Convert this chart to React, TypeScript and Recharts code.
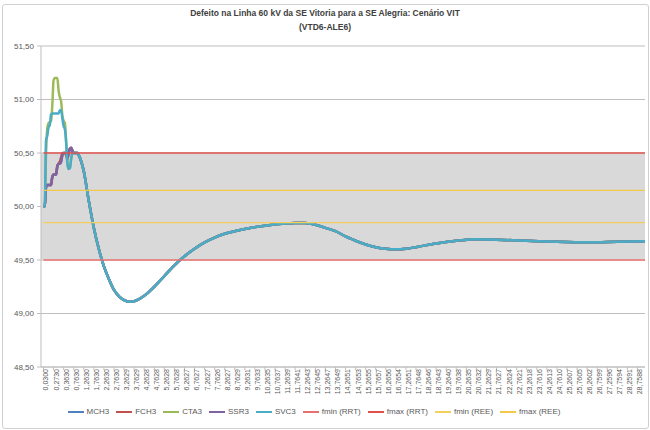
import React from 'react';
import {
  LineChart,
  Line,
  XAxis,
  YAxis,
  CartesianGrid,
  Legend,
  ReferenceArea,
} from 'recharts';

// Time labels printed under the category axis (one every 8 output samples)
const timeLabels = [
  '0,0300', '0,2730', '0,3630', '0,7630', '1,2630', '1,7630', '2,2630', '2,7630',
  '3,2629', '3,7629', '4,2628', '4,7628', '5,2628', '5,7628', '6,2627', '6,7627',
  '7,2627', '7,7626', '8,2627', '8,7629', '9,2631', '9,7633', '10,2635', '10,7637',
  '11,2639', '11,7641', '12,2643', '12,7645', '13,2647', '13,7649', '14,2651', '14,7653',
  '15,2655', '15,7657', '16,2656', '16,7654', '17,2651', '17,7648', '18,2646', '18,7643',
  '19,2640', '19,7638', '20,2635', '20,7632', '21,2629', '21,7627', '22,2624', '22,7621',
  '23,2618', '23,7616', '24,2613', '24,7610', '25,2607', '25,7605', '26,2602', '26,7599',
  '27,2596', '27,7594', '28,2591', '28,7588',
];
const SAMPLES_PER_LABEL = 8;

// Output samples during the fault / clearing transient
const transientSamples = [
  0, 1, 2, 3, 4, 5, 6, 7, 8, 9, 10, 11, 12, 13, 14, 15, 16, 17, 18, 19, 20, 21, 22, 23,
  24, 25, 26, 27, 28, 30,
];
const mch3Transient = [
  50.0, 50.0, 50.18, 50.2, 50.2, 50.2, 50.2, 50.28, 50.3, 50.3, 50.3, 50.38, 50.4, 50.4,
  50.42, 50.48, 50.5, 50.5, 50.5, 50.46, 50.5, 50.54, 50.55, 50.52, 50.5, 50.5, 50.5, 50.5,
  50.48, 50.42,
];
const fch3Transient = [
  50.0, 50.0, 50.18, 50.2, 50.2, 50.2, 50.2, 50.28, 50.3, 50.3, 50.3, 50.38, 50.4, 50.42,
  50.46, 50.5, 50.5, 50.5, 50.48, 50.44, 50.5, 50.54, 50.55, 50.52, 50.5, 50.5, 50.5, 50.5,
  50.48, 50.42,
];
const cta3Transient = [
  50.0, 50.0, 50.5, 50.73, 50.78, 50.79, 50.8, 50.95, 51.18, 51.2, 51.2, 51.2, 51.08, 51.02,
  50.98, 50.85, 50.8, 50.78, 50.6, 50.4, 50.35, 50.36, 50.45, 50.5, 50.5, 50.5, 50.5, 50.5,
  50.48, 50.42,
];
const ssr3Transient = [
  50.0, 50.0, 50.18, 50.2, 50.2, 50.2, 50.2, 50.28, 50.3, 50.3, 50.3, 50.38, 50.4, 50.4,
  50.42, 50.48, 50.5, 50.5, 50.5, 50.46, 50.5, 50.54, 50.55, 50.52, 50.5, 50.5, 50.5, 50.5,
  50.48, 50.42,
];
const svc3Transient = [
  50.0, 50.0, 50.62, 50.66, 50.74, 50.76, 50.86, 50.87, 50.87, 50.87, 50.87, 50.87, 50.87,
  50.9, 50.9, 50.82, 50.75, 50.72, 50.6, 50.4, 50.35, 50.36, 50.45, 50.5, 50.5, 50.5, 50.5,
  50.5, 50.48, 50.42,
];

// After clearing all five units follow the same frequency recovery
const recoverySamples = [
  32, 36, 40, 44, 48, 52, 56, 60, 64, 68, 72, 80, 88, 96, 104, 112, 120, 128, 136, 144, 160,
  176, 192, 200, 208, 216, 224, 232, 240, 248, 256, 264, 272, 280, 288, 296, 312, 328, 344,
  360, 384, 408, 432, 456, 478,
];
const recoveryFreq = [
  50.33, 50.05, 49.8, 49.6, 49.44, 49.32, 49.22, 49.16, 49.125, 49.11, 49.115, 49.165, 49.25,
  49.35, 49.45, 49.535, 49.605, 49.665, 49.71, 49.745, 49.79, 49.82, 49.84, 49.845, 49.845,
  49.83, 49.8, 49.77, 49.72, 49.68, 49.645, 49.62, 49.605, 49.6, 49.605, 49.62, 49.655, 49.68,
  49.695, 49.69, 49.68, 49.67, 49.665, 49.67, 49.675,
];

// Frequency limits (Hz)
const FMIN_RRT = 49.5;
const FMAX_RRT = 50.5;
const FMIN_REE = 49.85;
const FMAX_REE = 50.15;

const yTicks = [48.5, 49.0, 49.5, 50.0, 50.5, 51.0, 51.5];

const samples = [...transientSamples, ...recoverySamples];
const build = (transient: number[]) => [...transient, ...recoveryFreq];
const mch3 = build(mch3Transient);
const fch3 = build(fch3Transient);
const cta3 = build(cta3Transient);
const ssr3 = build(ssr3Transient);
const svc3 = build(svc3Transient);

const data = samples.map((sample, i) => ({
  sample,
  MCH3: mch3[i],
  FCH3: fch3[i],
  CTA3: cta3[i],
  SSR3: ssr3[i],
  SVC3: svc3[i],
  fminRRT: FMIN_RRT,
  fmaxRRT: FMAX_RRT,
  fminREE: FMIN_REE,
  fmaxREE: FMAX_REE,
}));

const xTicks = timeLabels.map((_, i) => i * SAMPLES_PER_LABEL);

const FONT = '"Liberation Sans", Arial, sans-serif';
const AXIS_COLOR = '#bfbfbf';
const TEXT_COLOR = '#595959';

const series = [
  { key: 'MCH3', color: '#4F81BD' },
  { key: 'FCH3', color: '#C0504D' },
  { key: 'CTA3', color: '#9BBB59' },
  { key: 'SSR3', color: '#8064A2' },
  { key: 'SVC3', color: '#4BACC6' },
];
const limitSeries = [
  { key: 'fminRRT', name: 'fmin (RRT)', color: '#E8706E' },
  { key: 'fmaxRRT', name: 'fmax (RRT)', color: '#E0504C' },
  { key: 'fminREE', name: 'fmin (REE)', color: '#F5CF5C' },
  { key: 'fmaxREE', name: 'fmax (REE)', color: '#F2C94A' },
];
const legendOrder = [...series.map((s) => s.key), ...limitSeries.map((s) => s.name)];

const renderLegend = (props: any) => {
  const items = [...(props.payload || [])].sort(
    (a: any, b: any) => legendOrder.indexOf(a.value) - legendOrder.indexOf(b.value)
  );
  return (
    <div
      style={{
        display: 'flex',
        justifyContent: 'center',
        alignItems: 'center',
        fontSize: 8,
        fontFamily: FONT,
        color: TEXT_COLOR,
        paddingRight: 10,
      }}
    >
      {items.map((it: any) => (
        <div
          key={it.value}
          style={{ display: 'flex', alignItems: 'center', marginRight: 7 }}
        >
          <svg width={16} height={6} style={{ marginRight: 3 }}>
            <line x1={0} y1={3} x2={16} y2={3} stroke={it.color} strokeWidth={2} />
          </svg>
          <span>{it.value}</span>
        </div>
      ))}
    </div>
  );
};

export default function App() {
  return (
    <div
      style={{
        position: 'absolute',
        left: 0,
        top: 0,
        width: 650,
        height: 430,
        background: '#ffffff',
        fontFamily: FONT,
      }}
    >
      <div
        style={{
          position: 'absolute',
          left: 2,
          top: 4,
          width: 645,
          height: 423,
          border: '1px solid #d0d0d0',
          borderRadius: 3,
        }}
      />
      <div
        style={{
          position: 'absolute',
          left: 0,
          top: 6,
          width: 650,
          textAlign: 'center',
          fontSize: 8.5,
          lineHeight: '14px',
          fontWeight: 'bold',
          color: '#404040',
        }}
      >
        <div>Defeito na Linha 60 kV da SE Vitoria para a SE Alegria: Cenário VIT</div>
        <div>(VTD6-ALE6)</div>
      </div>
      <div style={{ position: 'absolute', left: 0, top: 0 }}>
        <LineChart
          width={650}
          height={430}
          data={data}
          margin={{ top: 46, right: 5, bottom: 3, left: 0 }}
        >
          <CartesianGrid vertical={false} stroke={AXIS_COLOR} strokeWidth={1} />
          <ReferenceArea
            y1={FMIN_RRT}
            y2={FMAX_RRT}
            fill="#d9d9d9"
            fillOpacity={1}
            stroke="none"
          />
          <XAxis
            type="number"
            dataKey="sample"
            domain={[-2, 478]}
            ticks={xTicks}
            interval={0}
            tickFormatter={(v: number) => timeLabels[Math.round(v / SAMPLES_PER_LABEL)]}
            angle={-90}
            textAnchor="end"
            height={40}
            tickSize={3}
            tickMargin={2}
            stroke={AXIS_COLOR}
            tick={{ fontSize: 7, fill: TEXT_COLOR, fontFamily: FONT, dy: -3 }}
          />
          <YAxis
            type="number"
            domain={[48.5, 51.5]}
            ticks={yTicks}
            interval={0}
            width={41}
            tickSize={4}
            tickMargin={3}
            stroke={AXIS_COLOR}
            tickFormatter={(v: number) => v.toFixed(2).replace('.', ',')}
            tick={{ fontSize: 8, fill: TEXT_COLOR, fontFamily: FONT }}
          />
          {series.map((s) => (
            <Line
              key={s.key}
              type="monotone"
              dataKey={s.key}
              name={s.key}
              stroke={s.color}
              strokeWidth={2.5}
              dot={false}
              activeDot={false}
              isAnimationActive={false}
            />
          ))}
          {limitSeries.map((s) => (
            <Line
              key={s.key}
              type="linear"
              dataKey={s.key}
              name={s.name}
              stroke={s.color}
              strokeWidth={1.3}
              dot={false}
              activeDot={false}
              isAnimationActive={false}
            />
          ))}
          <Legend verticalAlign="bottom" align="center" height={20} content={renderLegend} />
        </LineChart>
      </div>
    </div>
  );
}
